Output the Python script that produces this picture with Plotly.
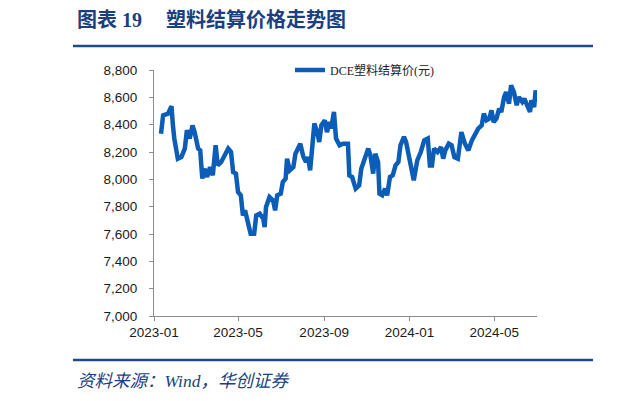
import plotly.graph_objects as go

dates = [
    "2023-01-11", "2023-01-14", "2023-01-21", "2023-01-26", "2023-01-28", "2023-01-30",
    "2023-02-04", "2023-02-09", "2023-02-14", "2023-02-17", "2023-02-21", "2023-02-25", "2023-02-28",
    "2023-03-05", "2023-03-08", "2023-03-11", "2023-03-14", "2023-03-18", "2023-03-22", "2023-03-26", "2023-03-30",
    "2023-04-02", "2023-04-07", "2023-04-12", "2023-04-17", "2023-04-21", "2023-04-24", "2023-04-28",
    "2023-05-01", "2023-05-05", "2023-05-08", "2023-05-11", "2023-05-15", "2023-05-19", "2023-05-24", "2023-05-27",
    "2023-06-01", "2023-06-06", "2023-06-08", "2023-06-10", "2023-06-15", "2023-06-20", "2023-06-23", "2023-06-26",
    "2023-07-01", "2023-07-04", "2023-07-08", "2023-07-10", "2023-07-14", "2023-07-19", "2023-07-22", "2023-07-26", "2023-07-29",
    "2023-08-02", "2023-08-06", "2023-08-09", "2023-08-12", "2023-08-15", "2023-08-18", "2023-08-22", "2023-08-25", "2023-08-28",
    "2023-09-02", "2023-09-05", "2023-09-09", "2023-09-11", "2023-09-15", "2023-09-18", "2023-09-23", "2023-09-28",
    "2023-10-05", "2023-10-07", "2023-10-11", "2023-10-16", "2023-10-21", "2023-10-24", "2023-10-29",
    "2023-11-03", "2023-11-06", "2023-11-10", "2023-11-13", "2023-11-17", "2023-11-19", "2023-11-23", "2023-11-27", "2023-11-30",
    "2023-12-04", "2023-12-08", "2023-12-12", "2023-12-16", "2023-12-19", "2023-12-24", "2023-12-27",
    "2024-01-01", "2024-01-07", "2024-01-12", "2024-01-17", "2024-01-22", "2024-01-27", "2024-01-30",
    "2024-02-02", "2024-02-05", "2024-02-10", "2024-02-15", "2024-02-18", "2024-02-21", "2024-02-26",
    "2024-03-01", "2024-03-03", "2024-03-05", "2024-03-10", "2024-03-15", "2024-03-20", "2024-03-25", "2024-03-30",
    "2024-04-03", "2024-04-08", "2024-04-13", "2024-04-16", "2024-04-20", "2024-04-24", "2024-04-27", "2024-04-30",
    "2024-05-04", "2024-05-08", "2024-05-11", "2024-05-15", "2024-05-18", "2024-05-22", "2024-05-25", "2024-05-29",
    "2024-06-02", "2024-06-05", "2024-06-10", "2024-06-13", "2024-06-17", "2024-06-21", "2024-06-23", "2024-06-27",
    "2024-06-29", "2024-07-01",
]

prices = [
    8334, 8468, 8481, 8536, 8395, 8298,
    8151, 8163, 8225, 8359, 8298, 8395, 8346,
    8225, 8212, 8005, 8078, 8017, 8090, 8029, 8249,
    8102, 8127, 8176, 8225, 8200, 8053, 8042,
    7907, 7883, 7736, 7773, 7687, 7602, 7602, 7736,
    7749, 7712, 7651, 7797, 7870, 7846, 7773, 7883,
    7895, 7980, 8005, 8151, 8066, 8090, 8188, 8225, 8261,
    8170, 8127, 8163, 8066, 8236, 8408, 8346, 8273, 8395,
    8432, 8346, 8419, 8371, 8493, 8298, 8249, 8261,
    8261, 8029, 8017, 7932, 7956, 8078, 8151,
    8225, 8176, 8042, 8188, 8127, 7895, 7883, 7932, 7883,
    8017, 8029, 8102, 8127, 8249, 8310, 8273,
    8127, 7993, 8139, 8200, 8285, 8298, 8102,
    8102, 8225, 8200, 8236, 8151, 8212, 8261,
    8249, 8190, 8163, 8151, 8346, 8261, 8212, 8285,
    8322, 8371, 8395, 8481, 8432, 8444, 8505, 8419,
    8444, 8517, 8493, 8602, 8639, 8554, 8688, 8639,
    8542, 8602, 8566, 8590, 8542, 8493, 8578, 8529,
    8651, 8566,
]

series_name = "DCE塑料结算价(元)"
x_tick_vals = ["2023-01-01", "2023-05-01", "2023-09-01", "2024-01-01", "2024-05-01"]
x_tick_text = ["2023-01", "2023-05", "2023-09", "2024-01", "2024-05"]
x_range = ["2023-01-01", "2024-07-01"]
y_range = [7000, 8800]
y_step = 200

title_left = "图表 19"
title_right = "塑料结算价格走势图"
source_text = "资料来源：Wind，华创证券"

# The page body has a default 8px margin; lay out in window pixels and compensate.
OFF = 8
WIN_W, WIN_H = 620, 401
W, H = WIN_W - OFF, WIN_H - OFF
PLOT_L, PLOT_R, PLOT_T, PLOT_B = 154, 537, 70, 316
ML, MT = PLOT_L - OFF, PLOT_T - OFF
MR, MB = WIN_W - PLOT_R, WIN_H - PLOT_B
PW, PH = PLOT_R - PLOT_L, PLOT_B - PLOT_T

def px_x(p):
    return (p - PLOT_L) / PW

def px_y(p):
    return (PLOT_B - p) / PH

line_color = "#0B5DB8"
navy = "#1B3F7F"
axis_gray = "#8C8C8C"

fig = go.Figure()
fig.add_trace(go.Scatter(
    x=dates, y=prices, mode="lines", name=series_name,
    line=dict(color=line_color, width=4.5),
))

fig.update_layout(
    width=W, height=H,
    margin=dict(l=ML, r=MR, t=MT, b=MB, pad=0),
    paper_bgcolor="white", plot_bgcolor="white",
    showlegend=True,
    legend=dict(
        x=px_x(290), y=px_y(70), xanchor="left", yanchor="middle",
        font=dict(family="Liberation Serif, Noto Sans CJK SC", size=12, color="#222222"),
        bgcolor="rgba(0,0,0,0)", borderwidth=0,
    ),
    xaxis=dict(
        type="date", range=x_range,
        tickvals=x_tick_vals, ticktext=x_tick_text,
        showgrid=False, zeroline=False,
        showline=True, linecolor=axis_gray, linewidth=1,
        ticks="outside", ticklen=4, tickcolor=axis_gray,
        tickfont=dict(family="Liberation Sans, Arial", size=13.5, color="#1A1A1A"),
    ),
    yaxis=dict(
        range=y_range, dtick=y_step, tickformat=",d",
        showgrid=False, zeroline=False,
        showline=True, linecolor=axis_gray, linewidth=1,
        ticks="outside", ticklen=4, tickcolor=axis_gray,
        ticklabelstandoff=9,
        tickfont=dict(family="Liberation Sans, Arial", size=13.5, color="#1A1A1A"),
    ),
)

title_font = dict(family="Liberation Serif, Noto Sans CJK SC", size=20, color=navy)
fig.add_annotation(
    text="<b>" + title_left + "</b>", xref="paper", yref="paper",
    x=px_x(75), y=px_y(20), xanchor="left", yanchor="middle",
    showarrow=False, font=title_font,
)
fig.add_annotation(
    text="<b>" + title_right + "</b>", xref="paper", yref="paper",
    x=px_x(164), y=px_y(20), xanchor="left", yanchor="middle",
    showarrow=False, font=title_font,
)
fig.add_annotation(
    text="<i>" + source_text + "</i>", xref="paper", yref="paper",
    x=px_x(75), y=px_y(381), xanchor="left", yanchor="middle",
    showarrow=False,
    font=dict(family="Liberation Serif, Noto Sans CJK SC", size=17.5, color=navy),
)

rule_color = "#1F4A8A"
for yy in (46, 360):
    fig.add_shape(type="line", xref="paper", yref="paper",
                  x0=px_x(73), x1=px_x(593), y0=px_y(yy), y1=px_y(yy),
                  line=dict(color=rule_color, width=2.5))
    fig.add_shape(type="line", xref="paper", yref="paper",
                  x0=px_x(612), x1=px_x(621), y0=px_y(yy), y1=px_y(yy),
                  line=dict(color=rule_color, width=2.5))

fig.write_html("out.html")
